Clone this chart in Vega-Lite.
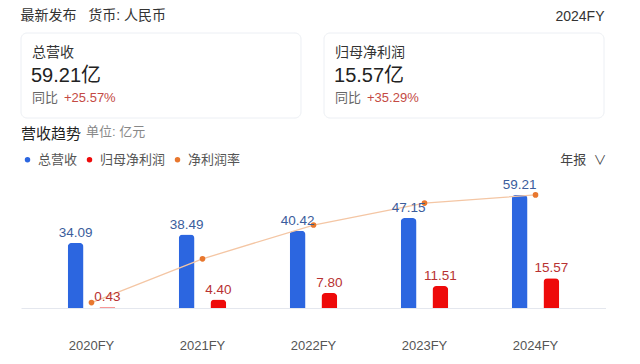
{
  "$schema": "https://vega.github.io/schema/vega-lite/v6.json",
  "background": "white",
  "padding": {"left": 20, "top": 9, "right": 0, "bottom": 0},
  "config": {
    "font": "Liberation Sans, Noto Sans CJK SC, sans-serif",
    "view": {"stroke": null},
    "text": {"font": "Liberation Sans, Noto Sans CJK SC, sans-serif"}
  },
  "spacing": 7,
  "resolve": {"legend": {"color": "independent"}, "scale": {"color": "independent"}},
  "datasets": {
    "cards": [
      {"card": "总营收", "value": "59.21亿", "label": "同比", "yoy": "+25.57%"},
      {"card": "归母净利润", "value": "15.57亿", "label": "同比", "yoy": "+35.29%"}
    ],
    "bars": [
      {"year": "2020FY", "series": "总营收", "value": 34.09},
      {"year": "2020FY", "series": "归母净利润", "value": 0.43},
      {"year": "2021FY", "series": "总营收", "value": 38.49},
      {"year": "2021FY", "series": "归母净利润", "value": 4.40},
      {"year": "2022FY", "series": "总营收", "value": 40.42},
      {"year": "2022FY", "series": "归母净利润", "value": 7.80},
      {"year": "2023FY", "series": "总营收", "value": 47.15},
      {"year": "2023FY", "series": "归母净利润", "value": 11.51},
      {"year": "2024FY", "series": "总营收", "value": 59.21},
      {"year": "2024FY", "series": "归母净利润", "value": 15.57}
    ],
    "margin": [
      {"year": "2020FY", "series": "净利润率", "margin": 1.26},
      {"year": "2021FY", "series": "净利润率", "margin": 11.43},
      {"year": "2022FY", "series": "净利润率", "margin": 19.30},
      {"year": "2023FY", "series": "净利润率", "margin": 24.41},
      {"year": "2024FY", "series": "净利润率", "margin": 26.30}
    ]
  },
  "vconcat": [
    {
      "width": 583,
      "height": 85,
      "title": {"text": "最新发布\u00a0\u00a0\u00a0货币: 人民币", "anchor": "start", "fontSize": 14, "fontWeight": "normal", "color": "#333333", "offset": -14},
      "data": {"name": "cards"},
      "encoding": {
        "x": {"field": "card", "type": "nominal", "sort": null, "scale": {"paddingInner": 0.076, "paddingOuter": 0},
          "axis": {"orient": "top", "title": "2024FY", "titleAnchor": "end", "labels": false, "ticks": false, "domain": false, "titleFontSize": 14, "titleFontWeight": "normal", "titleColor": "#333333", "titlePadding": 10}}
      },
      "layer": [
        {
          "mark": {"type": "rect", "fill": "white", "stroke": "#eceff4", "strokeWidth": 1, "cornerRadius": 6}
        },
        {
          "mark": {"type": "text", "align": "left", "baseline": "middle", "dx": 11, "fontSize": 14, "color": "#333333"},
          "encoding": {
            "x": {"field": "card", "type": "nominal", "sort": null, "bandPosition": 0},
            "y": {"datum": "name", "type": "nominal", "scale": {"type": "point", "domain": ["name", "value", "yoy"], "padding": 0.89}, "axis": null},
            "text": {"field": "card"}
          }
        },
        {
          "mark": {"type": "text", "align": "left", "baseline": "middle", "dx": 10, "fontSize": 20, "color": "#222222"},
          "encoding": {
            "x": {"field": "card", "type": "nominal", "sort": null, "bandPosition": 0},
            "y": {"datum": "value", "type": "nominal", "axis": null},
            "text": {"field": "value"}
          }
        },
        {
          "mark": {"type": "text", "align": "left", "baseline": "middle", "dx": 11, "fontSize": 13, "color": "#666666"},
          "encoding": {
            "x": {"field": "card", "type": "nominal", "sort": null, "bandPosition": 0},
            "y": {"datum": "yoy", "type": "nominal", "axis": null},
            "text": {"field": "label"}
          }
        },
        {
          "mark": {"type": "text", "align": "left", "baseline": "middle", "dx": 43, "fontSize": 13, "color": "#c44a44"},
          "encoding": {
            "x": {"field": "card", "type": "nominal", "sort": null, "bandPosition": 0},
            "y": {"datum": "yoy", "type": "nominal", "axis": null},
            "text": {"field": "yoy"}
          }
        }
      ]
    },
    {
      "width": 585,
      "height": 135,
      "title": {"text": "营收趋势", "subtitle": "\u200b\u3000\u3000\u3000\u3000\u3000单位: 亿元", "anchor": "start", "fontSize": 15, "fontWeight": "normal", "color": "#1f1f1f", "subtitleFontSize": 13, "subtitleColor": "#888888", "subtitlePadding": -16, "offset": 10},
      "resolve": {"scale": {"y": "independent"}, "axis": {"x": "independent"}},
      "layer": [
        {
          "data": {"name": "bars"},
          "mark": {"type": "bar", "cornerRadiusTopLeft": 4, "cornerRadiusTopRight": 4},
          "encoding": {
            "x": {"field": "year", "type": "nominal", "sort": null, "scale": {"paddingInner": 0, "paddingOuter": 0.135},
              "axis": {"orient": "bottom", "title": null, "ticks": false, "labelAngle": 0, "labelFontSize": 13, "labelColor": "#555555", "labelPadding": 31, "domainColor": "#e4e7ee", "domainWidth": 1}},
            "xOffset": {"field": "series", "type": "nominal", "scale": {"domain": ["总营收", "归母净利润"], "paddingInner": 0.5, "paddingOuter": 1.1}},
            "y": {"field": "value", "type": "quantitative", "scale": {"domain": [0, 70.7]}, "axis": null},
            "color": {"field": "series", "type": "nominal",
              "scale": {"domain": ["总营收", "归母净利润", "净利润率"], "range": ["#2c66e0", "#ee0a0a", "#e8772e"]},
              "legend": {"orient": "top", "direction": "horizontal", "title": null, "symbolType": "circle", "symbolSize": 30, "labelFontSize": 13, "labelColor": "#555555", "columnPadding": 5, "labelOffset": 4, "padding": 0, "offset": -14}}
          }
        },
        {
          "data": {"name": "margin"},
          "mark": {"type": "line", "color": "#f4c6a4", "strokeWidth": 1.3},
          "encoding": {
            "x": {"field": "year", "type": "nominal", "sort": null, "scale": {"paddingInner": 0, "paddingOuter": 0.135},
              "axis": {"orient": "top", "title": "年报\u00a0\u00a0\u2228", "titleAnchor": "end", "labels": false, "ticks": false, "domain": false, "titleFontSize": 13, "titleFontWeight": "normal", "titleColor": "#444444", "titlePadding": 7}},
            "y": {"field": "margin", "type": "quantitative", "scale": {"domain": [0, 31.4]}, "axis": null}
          }
        },
        {
          "data": {"name": "margin"},
          "mark": {"type": "point", "filled": true, "size": 32, "opacity": 1},
          "encoding": {
            "x": {"field": "year", "type": "nominal", "sort": null, "axis": null},
            "y": {"field": "margin", "type": "quantitative", "scale": {"domain": [0, 31.4]}, "axis": null},
            "color": {"field": "series", "type": "nominal"}
          }
        },
        {
          "data": {"name": "bars"},
          "transform": [{"filter": "datum.series === '总营收'"}],
          "mark": {"type": "text", "baseline": "bottom", "dy": -3, "fontSize": 13.5, "color": "#3b5d9c"},
          "encoding": {
            "x": {"field": "year", "type": "nominal", "sort": null, "axis": null},
            "xOffset": {"field": "series", "type": "nominal", "scale": {"domain": ["总营收", "归母净利润"]}},
            "y": {"field": "value", "type": "quantitative", "scale": {"domain": [0, 70.7]}, "axis": null},
            "text": {"field": "value", "type": "quantitative", "format": ".2f"}
          }
        },
        {
          "data": {"name": "bars"},
          "transform": [{"filter": "datum.series === '归母净利润'"}],
          "mark": {"type": "text", "baseline": "bottom", "dy": -3, "fontSize": 13.5, "color": "#b83232"},
          "encoding": {
            "x": {"field": "year", "type": "nominal", "sort": null, "axis": null},
            "xOffset": {"field": "series", "type": "nominal", "scale": {"domain": ["总营收", "归母净利润"]}},
            "y": {"field": "value", "type": "quantitative", "scale": {"domain": [0, 70.7]}, "axis": null},
            "text": {"field": "value", "type": "quantitative", "format": ".2f"}
          }
        }
      ]
    }
  ]
}
